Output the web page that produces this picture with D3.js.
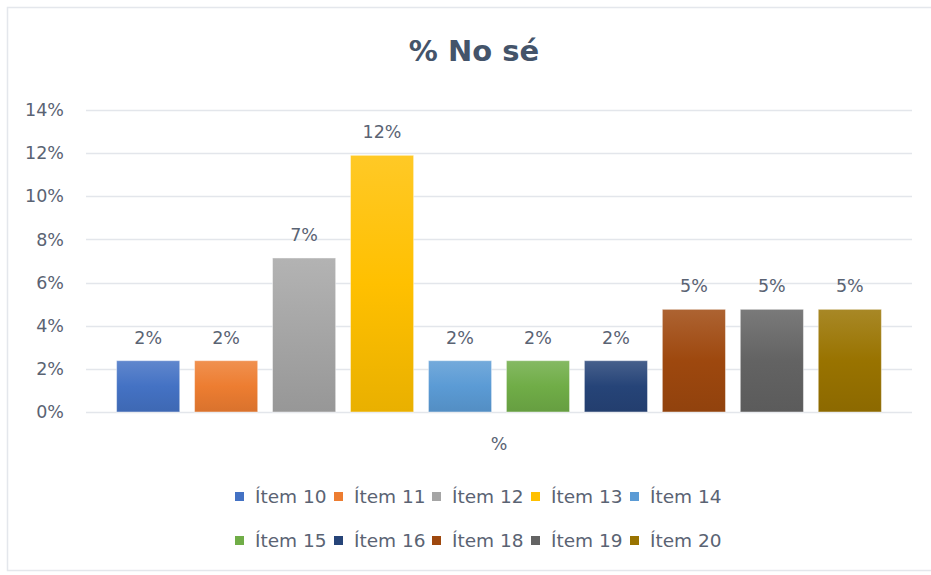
<!DOCTYPE html>
<html>
<head>
<meta charset="utf-8">
<script src="https://cdn.jsdelivr.net/npm/d3@7"></script>
<style>
  html, body { margin: 0; padding: 0; background: #fff; }
  svg { display: block; }
  text { font-family: "DejaVu Sans", sans-serif; }
</style>
</head>
<body>
<svg id="chart" width="931" height="575"></svg>
<script>
const title = "% No sé";
const category = "%";
const items = ["Ítem 10", "Ítem 11", "Ítem 12", "Ítem 13", "Ítem 14", "Ítem 15", "Ítem 16", "Ítem 18", "Ítem 19", "Ítem 20"];
const values = [0.0238, 0.0238, 0.0714, 0.119, 0.0238, 0.0238, 0.0238, 0.0476, 0.0476, 0.0476];
const colors = ["#4472C4", "#ED7D31", "#A5A5A5", "#FFC000", "#5B9BD5", "#70AD47", "#264478", "#9E480E", "#636363", "#997300"];
const yTicks = [0, 0.02, 0.04, 0.06, 0.08, 0.10, 0.12, 0.14];

const svg = d3.select("#chart");
const W = 931, H = 575;
const plot = { left: 86, right: 912, top: 110, bottom: 412 };
const textColor = "#5a6373";

// chart border
svg.append("rect").attr("x", 7.5).attr("y", 7.5).attr("width", W + 10).attr("height", 563)
  .attr("fill", "#fff").attr("stroke", "#e4e7ec").attr("stroke-width", 1.5);

// title
svg.append("text").attr("x", 474).attr("y", 61).attr("text-anchor", "middle")
  .attr("font-size", 29).attr("font-weight", "bold").attr("fill", "#44546A").text(title);

const y = d3.scaleLinear().domain([0, 0.14]).range([plot.bottom, plot.top]);
const x0 = d3.scaleBand().domain([category]).range([plot.left, plot.right]).paddingOuter(0.04).paddingInner(0);
const x1 = d3.scaleBand().domain(items).range([0, x0.bandwidth()]).paddingInner(0.19).paddingOuter(0);

// gridlines
const grid = svg.append("g");
grid.selectAll("line").data(yTicks).join("line")
  .attr("x1", plot.left).attr("x2", plot.right)
  .attr("y1", d => Math.round(y(d)) + 0.5).attr("y2", d => Math.round(y(d)) + 0.5)
  .attr("stroke", "#e3e6eb").attr("stroke-width", 1.5);

// y axis labels
const yAxis = d3.axisLeft(y).tickValues(yTicks).tickFormat(d3.format(".0%")).tickSize(0).tickPadding(0);
const ga = svg.append("g").attr("transform", `translate(64,0)`).call(yAxis);
ga.select(".domain").remove();
ga.selectAll("text").attr("font-size", 17.5).attr("fill", textColor).attr("font-family", "DejaVu Sans, sans-serif");

// gradients
const defs = svg.append("defs");
colors.forEach((c, i) => {
  const g = defs.append("linearGradient").attr("id", "grad" + i).attr("x1", 0).attr("y1", 0).attr("x2", 0).attr("y2", 1);
  g.append("stop").attr("offset", "0%").attr("stop-color", d3.interpolateRgb(c, "#ffffff")(0.15));
  g.append("stop").attr("offset", "50%").attr("stop-color", c);
  g.append("stop").attr("offset", "100%").attr("stop-color", d3.color(c).darker(0.25));
});

const gBars = svg.append("g").attr("transform", `translate(${x0(category)},0)`);
gBars.selectAll("rect").data(items).join("rect")
  .attr("x", d => x1(d))
  .attr("y", (d, i) => y(values[i]))
  .attr("width", x1.bandwidth())
  .attr("height", (d, i) => y(0) - y(values[i]))
  .attr("fill", (d, i) => `url(#grad${i})`)
  .attr("stroke", "rgba(255,255,255,0.45)").attr("stroke-width", 1);

// data labels
const fmt = d3.format(".0%");
gBars.selectAll("text").data(items).join("text")
  .attr("x", d => x1(d) + x1.bandwidth() / 2)
  .attr("y", (d, i) => y(values[i]) - 17)
  .attr("text-anchor", "middle").attr("font-size", 17.5).attr("fill", textColor)
  .text((d, i) => fmt(values[i]));

// category label
svg.append("text").attr("x", x0(category) + x0.bandwidth() / 2).attr("y", 450)
  .attr("text-anchor", "middle").attr("font-size", 17.5).attr("fill", textColor).text(category);

// legend
const legendRows = [items.slice(0, 5), items.slice(5)];
const legendX = [235, 334, 432, 531, 630];
const legendY = [503, 547];
legendRows.forEach((row, r) => {
  row.forEach((name, j) => {
    const idx = items.indexOf(name);
    const g = svg.append("g").attr("transform", `translate(${legendX[j]},${legendY[r]})`);
    g.append("rect").attr("x", 0).attr("y", -11).attr("width", 9).attr("height", 9).attr("fill", colors[idx]);
    g.append("text").attr("x", 20).attr("y", 0).attr("font-size", 18.5).attr("fill", textColor).text(name);
  });
});
</script>
</body>
</html>
